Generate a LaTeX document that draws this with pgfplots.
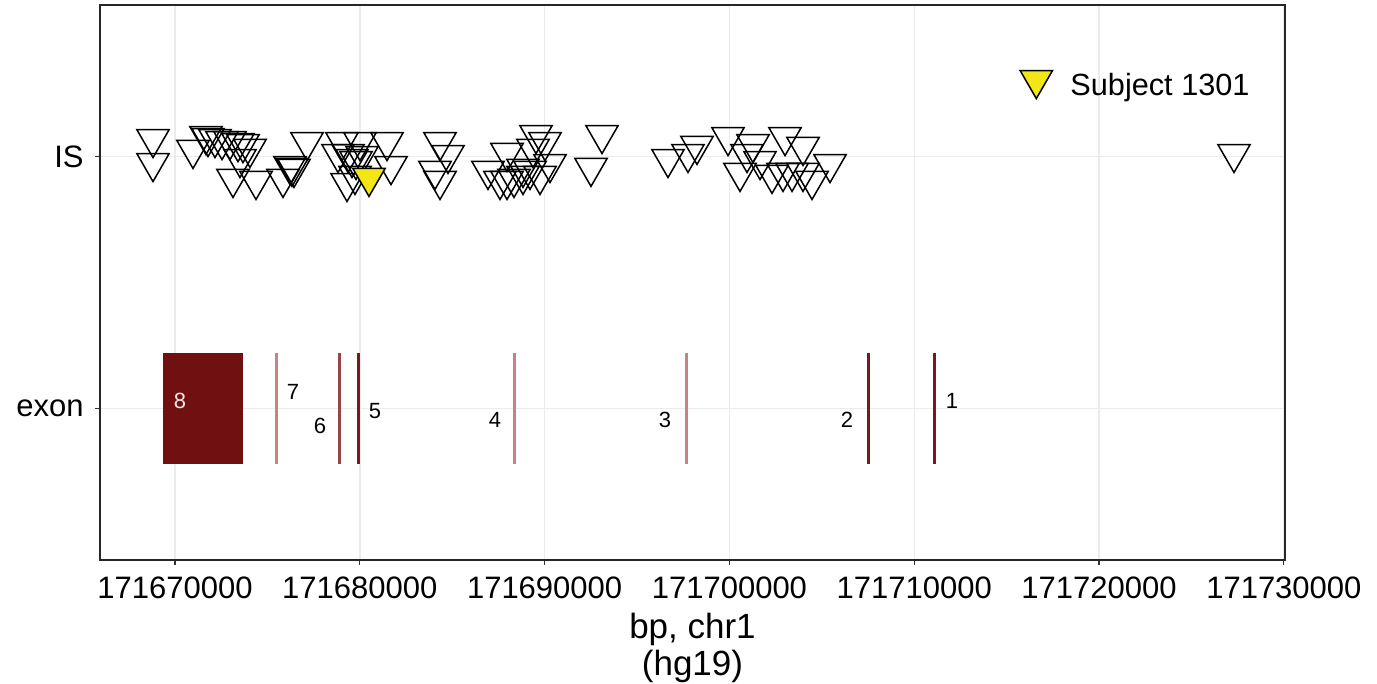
\documentclass[border=0pt]{standalone}
\usepackage{fontspec}
\setmainfont{Liberation Sans}
\usepackage{pgfplots}
\pgfplotsset{compat=1.18}
\definecolor{exdark}{RGB}{112,16,16}
\definecolor{exline}{RGB}{122,24,24}
\definecolor{exmid}{RGB}{150,70,70}
\definecolor{exlight}{RGB}{196,132,132}
\definecolor{gridgray}{RGB}{235,235,235}
\definecolor{subjyellow}{RGB}{242,230,20}
% x values: kb offset from 171600000 bp (i.e. x = (bp - 171600000)/1000)
\begin{document}
\begin{tikzpicture}
\path[use as bounding box] (-30pt,-37.2pt) rectangle (383.1pt,168pt);
\begin{axis}[
  scale only axis, width=355.5pt, height=166.5pt,
  xmin=65.942, xmax=130.06, ymin=0.4, ymax=2.6,
  xtick={70,80,90,100,110,120,130},
  xticklabels={171670000,171680000,171690000,171700000,171710000,171720000,171730000},
  ytick={1,2}, yticklabels={exon,IS},
  tick pos=left,
  tick align=outside, major tick length=1.4pt,
  tick style={black!80, line width=0.35pt},
  grid=major, grid style={color=gridgray, line width=0.45pt},
  axis line style={line width=0.4pt, black!85},
  ticklabel style={font=\fontsize{9.3}{11}\selectfont},
  /pgf/number format/assume math mode=true,
  xlabel={bp, chr1\\(hg19)},
  xlabel style={align=center, font=\fontsize{10.5}{11.1}\selectfont, yshift=2.3pt},
  legend style={draw=none, fill=none, at={(rel axis cs:0.7675,0.8524)}, anchor=west,
    font=\fontsize{9.2}{11}\selectfont,
    /tikz/every odd column/.append style={column sep=3.4pt}},
  legend image code/.code={\draw[mark repeat=2,mark phase=2,#1] plot coordinates {(0cm,2.1pt) (0.3cm,2.1pt) (0.6cm,2.1pt)};},
  clip=false,
]
% exon 8 (block)
\addplot[draw=none, fill=exdark, forget plot] coordinates {(69.351,0.78) (73.679,0.78) (73.679,1.22) (69.351,1.22)} -- cycle;
% exon lines
\addplot[exlight, line width=0.9pt, forget plot] coordinates {(75.519,0.78) (75.519,1.22)};
\addplot[exmid, line width=0.8pt, forget plot] coordinates {(78.890,0.78) (78.890,1.22)};
\addplot[exline, line width=0.9pt, forget plot] coordinates {(79.918,0.78) (79.918,1.22)};
\addplot[exlight, line width=0.9pt, forget plot] coordinates {(88.343,0.78) (88.343,1.22)};
\addplot[exlight, line width=0.9pt, forget plot] coordinates {(97.650,0.78) (97.650,1.22)};
\addplot[exline, line width=0.9pt, forget plot] coordinates {(107.536,0.78) (107.536,1.22)};
\addplot[exline, line width=0.9pt, forget plot] coordinates {(111.086,0.78) (111.086,1.22)};
% exon labels
\begin{scope}[every node/.style={font=\fontsize{6.6}{7}\selectfont, inner sep=0pt}]
\node[text=white!90!red] at (axis cs:70.271,1.032) {8};
\node at (axis cs:76.385,1.067) {7};
\node at (axis cs:77.846,0.933) {6};
\node at (axis cs:80.822,0.992) {5};
\node at (axis cs:87.315,0.957) {4};
\node at (axis cs:96.514,0.957) {3};
\node at (axis cs:106.362,0.957) {2};
\node at (axis cs:112.043,1.032) {1};
\end{scope}
% integration sites
\addplot[only marks, mark=triangle, mark size=5.6pt, mark options={rotate=180, draw=black, fill=none, line width=0.45pt}, forget plot] coordinates {
(68.810,2.069) (68.810,1.974) (70.974,2.026) (71.677,2.081) (71.786,2.073)
(72.164,2.069) (72.543,2.061) (72.976,2.061) (73.409,2.053) (74.058,2.030)
(73.679,2.049) (73.517,1.990) (73.138,1.911) (74.383,1.903)
(75.844,1.911) (76.223,1.962) (76.331,1.955) (76.439,1.951) (77.143,2.057)
(79.036,2.057) (80.010,2.057) (81.471,2.057) (78.820,2.010) (79.361,2.010)
(79.577,1.990) (79.794,1.982) (80.119,2.002) (79.307,1.895) (81.688,1.962)
(79.740,1.923)
(84.339,2.057) (84.772,2.006) (84.069,1.943) (84.339,1.903) (86.936,1.943)
(87.965,2.014) (87.965,1.903) (87.586,1.903) (88.343,1.911)
(89.534,2.085) (90.021,2.057) (89.371,2.030) (90.291,1.970) (88.830,1.951)
(89.750,1.923) (88.830,1.923) (89.209,1.943) (93.105,2.085) (92.510,1.955)
(96.676,1.990) (97.758,2.010) (98.245,2.042) (99.923,2.077) (100.951,2.010)
(100.572,1.935) (101.276,2.049) (103.007,2.077) (103.981,2.038) (105.442,1.970)
(102.304,1.927) (102.899,1.935) (103.386,1.935) (103.981,1.935) (104.468,1.903)
(101.654,1.982)
(127.302,2.010)
};
\addplot[only marks, mark=triangle*, mark size=5.6pt, mark options={rotate=180, draw=black, fill=subjyellow, line width=0.45pt}] coordinates {(80.497,1.915)};
\addlegendentry{Subject 1301}
\end{axis}
\end{tikzpicture}
\end{document}
